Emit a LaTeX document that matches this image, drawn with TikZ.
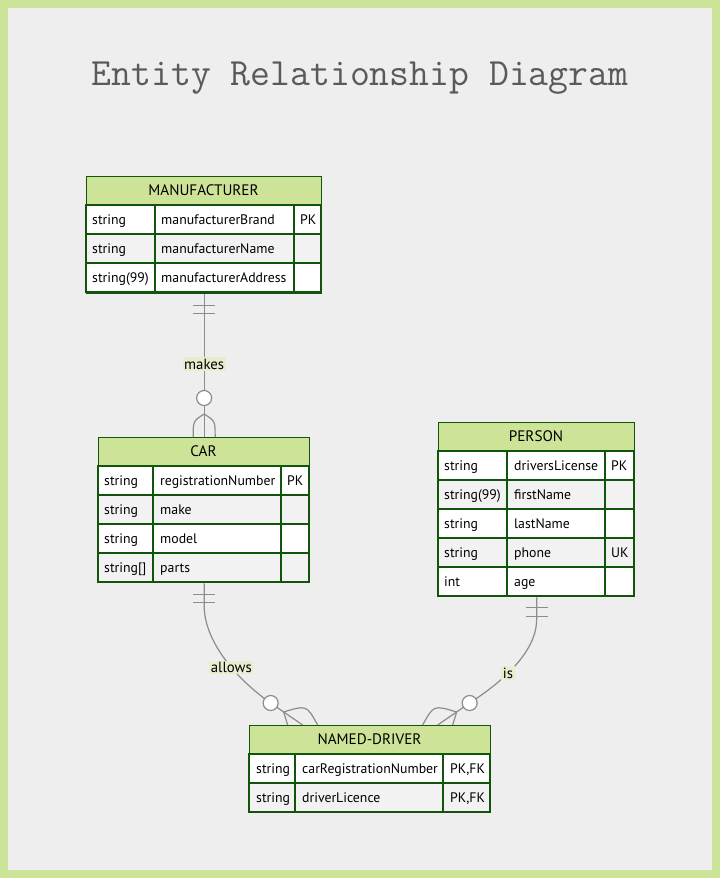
\documentclass[tikz,border=0pt]{standalone}
\usepackage{fontspec}
\setmainfont{PT Sans}
\usetikzlibrary{calc}

\definecolor{erframe}{RGB}{205,228,152}
\definecolor{erbg}{RGB}{238,238,238}
\definecolor{erline}{RGB}{19,84,12}
\definecolor{errow}{RGB}{242,242,242}
\definecolor{eredge}{RGB}{140,140,140}
\definecolor{erlabelbg}{RGB}{230,238,205}
\definecolor{ertitle}{RGB}{90,90,90}

\tikzset{
  erhead/.style={fill=erframe},
  ergrid/.style={draw=erline, line width=1.3pt},
  erbox/.style={ergrid, anchor=north west, inner sep=0pt},
  ername/.style={font=\fontsize{15.2}{17}\selectfont},
  erattr/.style={anchor=west, inner sep=0pt, text height=12pt, text depth=2.5pt, font=\fontsize{13.8}{16}\selectfont},
  erlink/.style={draw=eredge, line width=1.2pt},
  erlabel/.style={fill=erlabelbg, inner sep=1.5pt, font=\fontsize{14.8}{17}\selectfont},
  erzero/.style={erlink, fill=white}
}

\begin{document}
\begin{tikzpicture}[x=1pt, y=-1pt]
  \useasboundingbox (0,0) rectangle (720,878);
  \fill[erframe] (0,0) rectangle (720,878);
  \fill[erbg] (8,8) rectangle (712,870);

  \node[font=\ttfamily\fontsize{38.6}{40}\selectfont, text=ertitle, anchor=base] (title) at (360,85) {Entity Relationship Diagram};

  % MANUFACTURER
  \fill[erhead] (86,176) rectangle (321,205);
  \node[ername] at (203.5,190.5) {MANUFACTURER};
  \foreach \typ/\nam/\key [count=\i] in {string/manufacturerBrand/PK, string/manufacturerName/, string(99)/manufacturerAddress/} {
    \pgfmathsetmacro\ya{176+29*\i}
    \ifodd\i \def\rowfill{white}\else \def\rowfill{errow}\fi
    \filldraw[ergrid, fill=\rowfill] (86,\ya) rectangle (321,\ya+29);
    \draw[ergrid] (155,\ya) -- (155,\ya+29) (294,\ya) -- (294,\ya+29);
    \node[erattr] at (92,\ya+14.5) {\typ};
    \node[erattr] at (161,\ya+14.5) {\nam};
    \node[erattr] at (300,\ya+14.5) {\key};
  }
  \node[erbox, minimum width=235, minimum height=117] (manufacturer) at (86,176) {};

  % CAR
  \fill[erhead] (98,437) rectangle (309,466);
  \node[ername] at (203.5,451.5) {CAR};
  \foreach \typ/\nam/\key [count=\i] in {string/registrationNumber/PK, string/make/, string/model/, {string[]}/parts/} {
    \pgfmathsetmacro\ya{437+29*\i}
    \ifodd\i \def\rowfill{white}\else \def\rowfill{errow}\fi
    \filldraw[ergrid, fill=\rowfill] (98,\ya) rectangle (309,\ya+29);
    \draw[ergrid] (153,\ya) -- (153,\ya+29) (281,\ya) -- (281,\ya+29);
    \node[erattr] at (104,\ya+14.5) {\typ};
    \node[erattr] at (160,\ya+14.5) {\nam};
    \node[erattr] at (287,\ya+14.5) {\key};
  }
  \node[erbox, minimum width=211, minimum height=145] (car) at (98,437) {};

  % PERSON
  \fill[erhead] (438,422) rectangle (634,451);
  \node[ername] at (536,436.5) {PERSON};
  \foreach \typ/\nam/\key [count=\i] in {string/driversLicense/PK, string(99)/firstName/, string/lastName/, string/phone/UK, int/age/} {
    \pgfmathsetmacro\ya{422+29*\i}
    \ifodd\i \def\rowfill{white}\else \def\rowfill{errow}\fi
    \filldraw[ergrid, fill=\rowfill] (438,\ya) rectangle (634,\ya+29);
    \draw[ergrid] (507,\ya) -- (507,\ya+29) (605,\ya) -- (605,\ya+29);
    \node[erattr] at (444,\ya+14.5) {\typ};
    \node[erattr] at (514,\ya+14.5) {\nam};
    \node[erattr] at (611,\ya+14.5) {\key};
  }
  \node[erbox, minimum width=196, minimum height=174] (person) at (438,422) {};

  % NAMED-DRIVER
  \fill[erhead] (249,725) rectangle (490,754);
  \node[ername] at (369.5,739.5) {NAMED-DRIVER};
  \foreach \typ/\nam/\key [count=\i] in {string/carRegistrationNumber/{PK,FK}, string/driverLicence/{PK,FK}} {
    \pgfmathsetmacro\ya{725+29*\i}
    \ifodd\i \def\rowfill{white}\else \def\rowfill{errow}\fi
    \filldraw[ergrid, fill=\rowfill] (249,\ya) rectangle (490,\ya+29);
    \draw[ergrid] (295,\ya) -- (295,\ya+29) (443,\ya) -- (443,\ya+29);
    \node[erattr] at (256,\ya+14.5) {\typ};
    \node[erattr] at (302,\ya+14.5) {\nam};
    \node[erattr] at (450,\ya+14.5) {\key};
  }
  \node[erbox, minimum width=241, minimum height=87] (driver) at (249,725) {};

  % makes
  \draw[erlink] (manufacturer.south) -- (car.north) node[erlabel, pos=0.49] {makes};
  \draw[erlink] ($(manufacturer.south)+(-11,11)$) -- ++(22,0) ($(manufacturer.south)+(-11,19)$) -- ++(22,0);
  \begin{scope}[shift={(car.north)}]
    \draw[erlink] (0,-23) .. controls (-11,-16) .. (-11,0) (0,-23) .. controls (11,-16) .. (11,0);
    \draw[erzero] (0,-39) circle (7.5pt);
  \end{scope}

  % allows
  \draw[erlink] (car.south) -- ($(car.south)+(0,22)$) .. controls ($(car.south)+(0,59)$) and ($(driver.north)+(-132.5,-45)$) .. ($(driver.north)+(-99.5,-22)$) node[erlabel, pos=0.58] {allows} -- ($(driver.north)+(-67.5,0)$);
  \draw[erlink] ($(car.south)+(-11,11)$) -- ++(22,0) ($(car.south)+(-11,19)$) -- ++(22,0);

  % is
  \draw[erlink] (person.south) -- ($(person.south)+(0,22)$) .. controls ($(person.south)+(0,54)$) and ($(driver.north)+(133.5,-44)$) .. ($(driver.north)+(99.5,-22)$) node[erlabel, pos=0.6] {is} -- ($(driver.north)+(67.5,0)$);
  \draw[erlink] ($(person.south)+(-11,10)$) -- ++(22,0) ($(person.south)+(-11,19)$) -- ++(22,0);

  \foreach \s in {1,-1} {
    \begin{scope}[shift={(driver.north)}, xscale=\s]
      \draw[erlink] (-86.5,-13) .. controls (-84.5,-6) .. (-82.5,0) (-86.5,-13) .. controls (-63.5,-20) .. (-52.5,0);
      \draw[erzero] (-99.5,-22) circle (7.5pt);
    \end{scope}
  }
\end{tikzpicture}
\end{document}
